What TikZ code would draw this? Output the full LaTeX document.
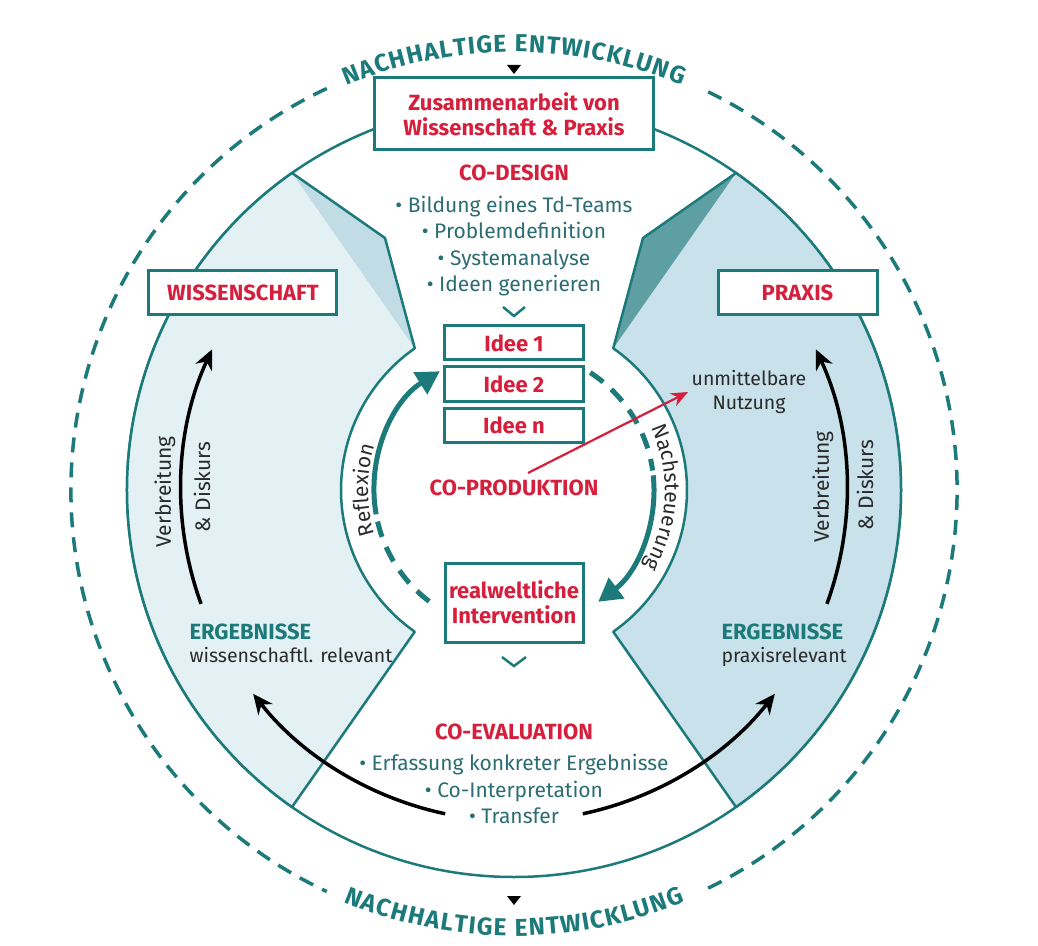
\documentclass[tikz,border=0pt]{standalone}
\usepackage{fontspec}
\setmainfont{Fira Sans}
\usepackage{xcolor}
\usetikzlibrary{arrows.meta,decorations.text,positioning}
\tikzset{>={Stealth[length=20pt,width=18pt]}}

\definecolor{ringteal}{HTML}{1C7A7A}
\definecolor{listteal}{HTML}{2B6D72}
\definecolor{headred}{HTML}{D61F3C}
\definecolor{leftband}{HTML}{E3F1F5}
\definecolor{rightband}{HTML}{C8E1EA}
\definecolor{leftcorner}{HTML}{C1DCE5}
\definecolor{rightcorner}{HTML}{5E9FA4}
\definecolor{darktext}{HTML}{2A2A2A}

\newcommand{\hdfont}{\fontsize{22}{25}\selectfont\bfseries}
\newcommand{\lsfont}{\fontsize{21}{26.5}\selectfont}
\newcommand{\smfont}{\fontsize{19.5}{24}\selectfont}
\newcommand{\curvefont}{\fontsize{24.5}{24.5}\selectfont\bfseries}

\begin{document}
\begin{tikzpicture}[x=1pt,y=1pt,
                    bigring/.style={ringteal, line width=2.5pt},
                    dashring/.style={ringteal, line width=3.5pt, dash pattern=on 15pt off 10pt},
                    bandline/.style={draw=ringteal, line width=2.5pt, line join=round},
                    tealbox/.style={draw=ringteal, line width=3pt, fill=white, inner sep=0pt, align=center},
                    redlabel/.style={text=headred, font=\hdfont},
                    tealhead/.style={text=ringteal, font=\hdfont},
                    listtext/.style={text=listteal, font=\lsfont, align=center},
                    subtext/.style={text=darktext, font=\smfont, align=center},
                    sidetext/.style={text=darktext, font=\lsfont, rotate=90},
                    chevron/.style={ringteal, line width=2.5pt},
                    loopline/.style={ringteal, line width=5pt},
                    loopdash/.style={ringteal, line width=5pt, dash pattern=on 16pt off 11pt},
                    looparrow/.style={ringteal, line width=5pt, -{Triangle[length=23pt,width=25pt]}},
                    blackarc/.style={black, line width=3.5pt, ->},
                    redarrow/.style={headred, line width=2.2pt, -{Stealth[length=17pt,width=14pt]}},
                   ]

\useasboundingbox (-514,-455) rectangle (524,490);
\fill[white] (-514,-455) rectangle (524,490);

\coordinate (ctr) at (0,0);

% outer dashed ring
\draw[dashring] (115:443) arc[start angle=115, end angle=245, radius=443];
\draw[dashring] (-64:443) arc[start angle=-64, end angle=64, radius=443];

\path[decorate, decoration={text along path, text color=ringteal,
      text={|\curvefont|NACHHALTIGE ENTWICKLUNG}, text align={fit to path}, raise=-5pt}]
      (112.5:443) arc[start angle=112.5, end angle=67.5, radius=443];
\path[decorate, decoration={text along path, text color=ringteal,
      text={|\curvefont|NACHHALTIGE ENTWICKLUNG}, text align={fit to path}, raise=-3pt}]
      (247.5:443) arc[start angle=247.5, end angle=292.5, radius=443];

\fill (-7,425) -- (7,425) -- (0,416) -- cycle;
\fill (-7,-406) -- (7,-406) -- (0,-415) -- cycle;

% main circle
\draw[bigring, fill=white] (ctr) circle[radius=387];

% left band
\coordinate (wA) at (125:387);
\coordinate (wB) at (-129,252);
\coordinate (wC) at (125:173);
\coordinate (wE) at (235:387);
\fill[leftband] (wA) -- (wB) -- (wC) arc[start angle=125, end angle=235, radius=173] -- (wE) arc[start angle=235, end angle=125, radius=387] -- cycle;
\fill[leftcorner] (wA) -- (wB) -- (wC) -- cycle;
\draw[bandline] (wA) -- (wB) -- (wC) arc[start angle=125, end angle=235, radius=173] -- (wE) arc[start angle=235, end angle=125, radius=387] -- cycle;

% right band
\coordinate (pA) at (55:387);
\coordinate (pB) at (129,252);
\coordinate (pC) at (55:173);
\coordinate (pE) at (-55:387);
\fill[rightband] (pA) -- (pB) -- (pC) arc[start angle=55, end angle=-55, radius=173] -- (pE) arc[start angle=-55, end angle=55, radius=387] -- cycle;
\fill[rightcorner] (pA) -- (pB) -- (pC) -- cycle;
\draw[bandline] (pA) -- (pB) -- (pC) arc[start angle=55, end angle=-55, radius=173] -- (pE) arc[start angle=-55, end angle=55, radius=387] -- cycle;

% top
\node[tealbox, redlabel, minimum width=278pt, minimum height=72pt] (zus) at (0,376) {Zusammenarbeit von\\Wissenschaft \& Praxis};
\node[redlabel] (codesign) at (0,317) {CO-DESIGN};
\node[listtext] (designlist) at (0,244) {• Bildung eines Td-Teams\\• Problemdefinition\\• Systemanalyse\\• Ideen generieren};
\draw[chevron] (-11,183) -- (0,174) -- (11,183);

% co-produktion
\node[tealbox, redlabel, minimum width=139pt, minimum height=34pt] (idee1) at (0,147) {Idee 1};
\node[tealbox, redlabel, minimum width=139pt, minimum height=34pt, below=4pt of idee1] (idee2) {Idee 2};
\node[tealbox, redlabel, minimum width=139pt, minimum height=34pt, below=4pt of idee2] (idee3) {Idee n};
\node[redlabel] (coprod) at (0,2) {CO-PRODUKTION};
\node[tealbox, redlabel, minimum width=138pt, minimum height=79pt] (interv) at (0,-112.5) {realweltliche\\Intervention};

\draw[looparrow] (190:140) arc[start angle=190, end angle=122, radius=140];
\draw[loopdash] (193:140) arc[start angle=193, end angle=236, radius=140];
\draw[loopdash] (57:140) arc[start angle=57, end angle=8, radius=140];
\draw[looparrow] (6:140) arc[start angle=6, end angle=-53, radius=140];

\path[decorate, decoration={text along path, text color=darktext,
      text={|\lsfont|Reflexion}, text align=center}]
      (204:146) arc[start angle=204, end angle=156, radius=146];
\path[decorate, decoration={text along path, text color=darktext,
      text={|\lsfont|Nachsteuerung}, text align=center}]
      (30:151) arc[start angle=30, end angle=-36, radius=151];

\node[subtext] (nutz) at (235,98) {unmittelbare\\Nutzung};
\coordinate (redtail) at (14,17);
\draw[redarrow] (redtail) -- (nutz.west);

% co-evaluation
\draw[chevron] (-12,-167) -- (0,-176) -- (12,-167);
\node[redlabel] (coeval) at (0,-242) {CO-EVALUATION};
\node[listtext] (evallist) at (0,-299) {• Erfassung konkreter Ergebnisse\\• Co-Interpretation\\• Transfer};

% wissenschaft
\node[tealbox, redlabel, minimum width=188pt, minimum height=44pt] (wiss) at (-271,197) {WISSENSCHAFT};
\node[tealhead, anchor=west] (ergw) at (-328,-142) {ERGEBNISSE};
\node[subtext, anchor=north west] (ergwsub) at (ergw.south west) {wissenschaftl. relevant};
\node[sidetext] (verbw) at (-349,-2) {Verbreitung};
\node[sidetext] (diskw) at (-312,3) {\& Diskurs};
\coordinate (wup) at (200:333);
\draw[blackarc] (wup) arc[start angle=200, end angle=155, radius=333];
\coordinate (wback) at (258:331);
\draw[blackarc] (wback) arc[start angle=258, end angle=218, radius=331];

% praxis
\node[tealbox, redlabel, minimum width=159pt, minimum height=44pt] (praxis) at (283.5,197) {PRAXIS};
\node[tealhead, anchor=west] (ergp) at (204,-142) {ERGEBNISSE};
\node[subtext, anchor=north west] (ergpsub) at (ergp.south west) {praxisrelevant};
\node[sidetext] (verbp) at (309,3) {Verbreitung};
\node[sidetext] (diskp) at (351,5) {\& Diskurs};
\coordinate (pup) at (-20:333);
\draw[blackarc] (pup) arc[start angle=-20, end angle=25, radius=333];
\coordinate (pback) at (282:331);
\draw[blackarc] (pback) arc[start angle=282, end angle=322, radius=331];

\end{tikzpicture}
\end{document}
